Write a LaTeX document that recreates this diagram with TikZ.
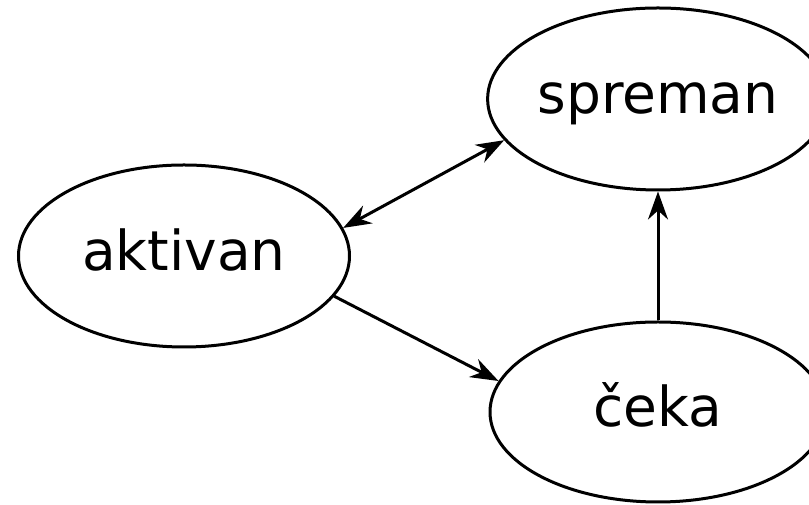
\documentclass[tikz,border=0pt]{standalone}
\usepackage{fontspec}
\setmainfont{DejaVu Sans}
\usetikzlibrary{shapes.geometric,arrows.meta}
\tikzset{
  state/.style={draw, ellipse, line width=3pt, inner sep=0pt,
    font=\fontsize{55}{60}\selectfont, text height=30pt, text depth=0pt},
  headtip/.tip={Stealth[length=28pt,width=20pt,inset=9pt]},
  link/.style={line width=3pt, -headtip},
  bilink/.style={line width=3pt, headtip-headtip}
}
\begin{document}
\begin{tikzpicture}[x=1pt,y=1pt]
\useasboundingbox (0,0) rectangle (809,505);
\node[state, minimum width=331pt, minimum height=182pt] (akt) at (184,249) {aktivan};
\node[state, minimum width=336pt, minimum height=182pt] (spr) at (658,406) {spreman};
\node[state, minimum width=336pt, minimum height=180pt] (cek) at (658,93) {čeka};
\draw[bilink] (akt.10) -- (spr.195);
\draw[link] (akt.-15) -- (cek.169.6);
\draw[link] (cek.north) -- (spr.south);
\end{tikzpicture}
\end{document}
